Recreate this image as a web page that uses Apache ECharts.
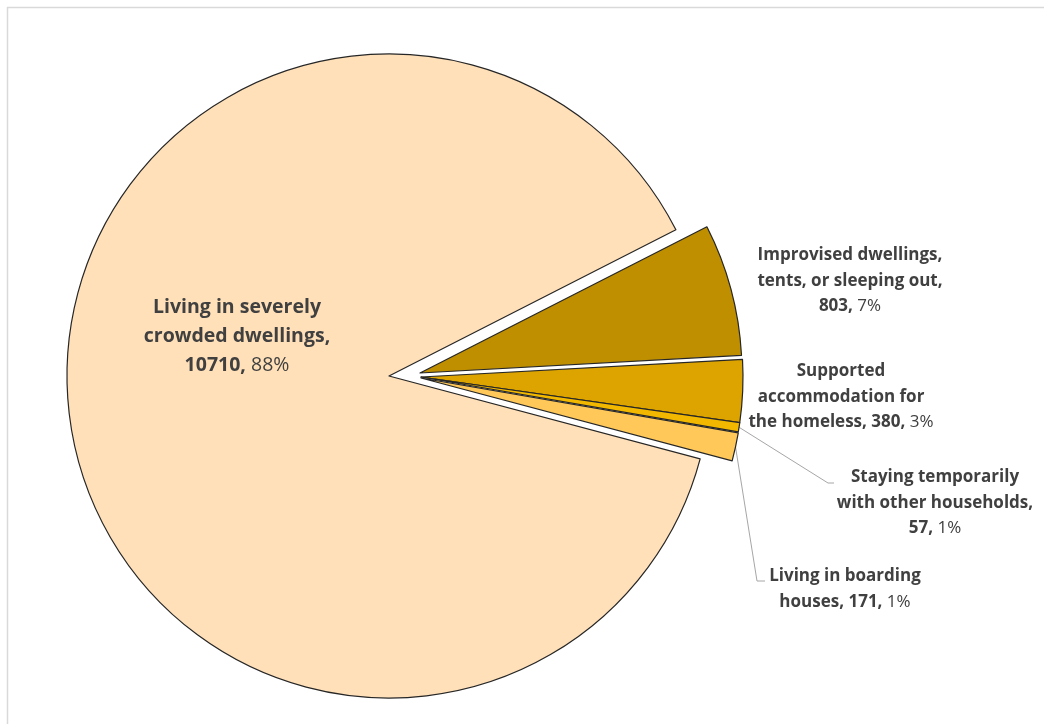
<!DOCTYPE html>
<html><head><meta charset="utf-8">
<script src="https://cdn.jsdelivr.net/npm/echarts@6/dist/echarts.min.js"></script>
<style>html,body{margin:0;padding:0;background:#fff}#c{width:1044px;height:724px}</style>
</head><body><div id="c"></div>
<script>
// ---- data (clockwise order starting at the top of the small slices) ----
const categories = [
  'Improvised dwellings, tents, or sleeping out',
  'Supported accommodation for the homeless',
  'Staying temporarily with other households',
  'Living in boarding houses',
  'Living in severely crowded dwellings'
];
const values = [803, 380, 57, 171, 10710];
const pctLabels = ['7%', '3%', '1%', '1%', '88%'];
const labelTexts = [
  'Improvised dwellings,\ntents, or sleeping out,\n',
  'Supported\naccommodation for\nthe homeless, ',
  'Staying temporarily\nwith other households,\n',
  'Living in boarding\nhouses, ',
  'Living in severely\ncrowded dwellings,\n'
];

// ---- style / layout config ----
const colors = ['#BF8F00', '#DDA400', '#F2B800', '#FFC858', '#FFE0B8'];
const centers = [[420, 373], [421, 377], [421, 377], [421, 378], [389, 376]];
const labelSpots = [[850, 281], [841, 397], [935, 503], [845, 589], [237, 336]];
const lineEnds = { 2: [[828, 483], [834, 483]], 3: [[757, 581], [765, 581]] };
const FONT = '"Open Sans", sans-serif';

function fmt(i) {
  const parts = labelTexts[i].split('\n');
  const last = parts.pop();
  let s = parts.map(p => '{b|' + p + '}').join('\n');
  if (parts.length) s += '\n';
  s += '{b|' + last + values[i] + ',}{n| ' + pctLabels[i] + '}';
  return s;
}

function richFor(i) {
  const big = i === 4;
  const fs = big ? 19.5 : 17, lh = big ? 29 : 25.5;
  return {
    b: { fontFamily: FONT, fontWeight: 'bold', fontSize: fs, lineHeight: lh, color: '#404040', align: 'center' },
    n: { fontFamily: FONT, fontWeight: 'normal', fontSize: fs, lineHeight: lh, color: '#404040', align: 'center' }
  };
}

const series = values.map((v, i) => ({
  type: 'pie',
  center: centers[i],
  radius: 322,
  startAngle: 27,
  clockwise: true,
  avoidLabelOverlap: false,
  silent: true,
  animation: false,
  emphasis: { disabled: true },
  data: values.map((val, j) => ({
    value: val,
    name: categories[j],
    itemStyle: j === i
      ? { color: colors[j], borderColor: '#262626', borderWidth: 1.2 }
      : { color: 'rgba(0,0,0,0)', borderColor: 'rgba(0,0,0,0)', borderWidth: 0 },
    label: { show: j === i },
    labelLine: { show: j === i && lineEnds[j] !== undefined }
  })),
  label: {
    position: i === 4 ? 'inside' : 'outside',
    formatter: () => fmt(i),
    rich: richFor(i),
    fontFamily: FONT,
    fontSize: i === 4 ? 19.5 : 17,
    color: '#404040'
  },
  labelLine: { length: 10, length2: 10, lineStyle: { color: '#A6A6A6', width: 1 } },
  labelLayout: function (p) {
    if (p.dataIndex !== i) return {};
    const out = { x: labelSpots[i][0], y: labelSpots[i][1], align: 'center', verticalAlign: 'middle' };
    if (lineEnds[i] && p.labelLinePoints && p.labelLinePoints.length) {
      out.labelLinePoints = [p.labelLinePoints[0]].concat(lineEnds[i]);
    }
    return out;
  }
}));

const chart = echarts.init(document.getElementById('c'), null, { renderer: 'canvas' });
chart.setOption({
  backgroundColor: '#FFFFFF',
  animation: false,
  graphic: [{
    type: 'rect', silent: true, z: -10,
    shape: { x: 7.5, y: 7.5, width: 1300, height: 900 },
    style: { fill: 'none', stroke: '#D9D9D9', lineWidth: 1.5 }
  }],
  series: series
});
</script></body></html>
